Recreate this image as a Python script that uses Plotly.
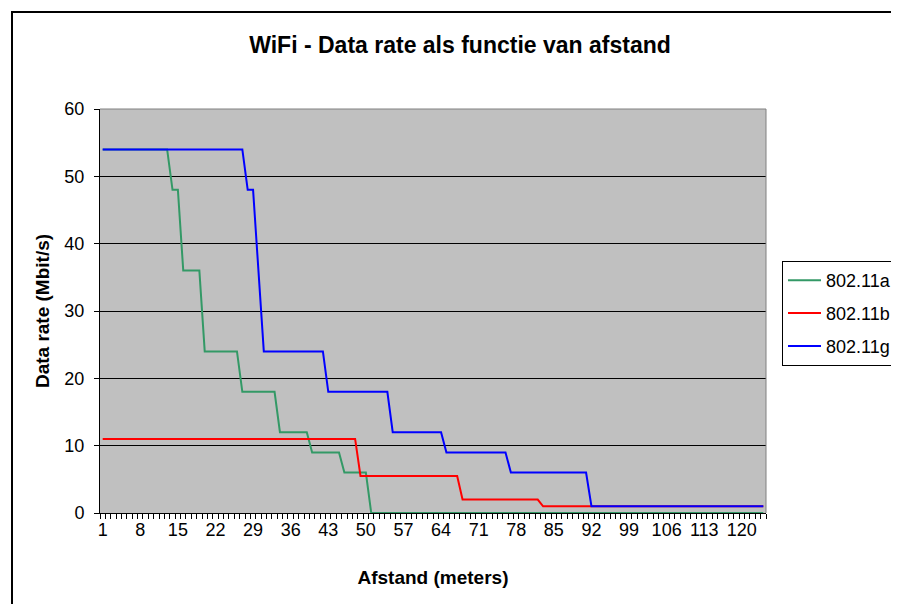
import plotly.graph_objects as go

# Categories: distance in meters
afstand = list(range(1, 125))

# Series values (Mbit/s), one value per distance category
rate_a = [
    54, 54, 54, 54, 54, 54, 54, 54, 54, 54, 54, 54, 54,
    48, 48,
    36, 36, 36, 36,
    24, 24, 24, 24, 24, 24, 24,
    18, 18, 18, 18, 18, 18, 18,
    12, 12, 12, 12, 12, 12,
    9, 9, 9, 9, 9, 9,
    6, 6, 6, 6, 6,
    0, 0, 0, 0, 0, 0, 0, 0, 0, 0, 0, 0, 0, 0, 0, 0, 0, 0, 0, 0, 0, 0, 0, 0, 0,
    0, 0, 0, 0, 0, 0, 0, 0, 0, 0, 0, 0, 0, 0, 0, 0, 0, 0, 0, 0, 0, 0, 0, 0, 0,
    0, 0, 0, 0, 0, 0, 0, 0, 0, 0, 0, 0, 0, 0, 0, 0, 0, 0, 0, 0, 0, 0, 0, 0,
]

rate_b = [
    11, 11, 11, 11, 11, 11, 11, 11, 11, 11, 11, 11, 11, 11, 11, 11,
    11, 11, 11, 11, 11, 11, 11, 11, 11, 11, 11, 11, 11, 11, 11, 11,
    11, 11, 11, 11, 11, 11, 11, 11, 11, 11, 11, 11, 11, 11, 11, 11,
    5.5, 5.5, 5.5, 5.5, 5.5, 5.5, 5.5, 5.5, 5.5, 5.5,
    5.5, 5.5, 5.5, 5.5, 5.5, 5.5, 5.5, 5.5, 5.5,
    2, 2, 2, 2, 2, 2, 2, 2, 2, 2, 2, 2, 2, 2, 2,
    1, 1, 1, 1, 1, 1, 1, 1, 1, 1, 1, 1, 1, 1, 1, 1, 1, 1, 1, 1, 1,
    1, 1, 1, 1, 1, 1, 1, 1, 1, 1, 1, 1, 1, 1, 1, 1, 1, 1, 1, 1, 1,
]

rate_g = [
    54, 54, 54, 54, 54, 54, 54, 54, 54, 54, 54, 54, 54, 54,
    54, 54, 54, 54, 54, 54, 54, 54, 54, 54, 54, 54, 54,
    48, 48,
    36,
    24, 24, 24, 24, 24, 24, 24, 24, 24, 24, 24, 24,
    18, 18, 18, 18, 18, 18, 18, 18, 18, 18, 18, 18,
    12, 12, 12, 12, 12, 12, 12, 12, 12, 12,
    9, 9, 9, 9, 9, 9, 9, 9, 9, 9, 9, 9,
    6, 6, 6, 6, 6, 6, 6, 6, 6, 6, 6, 6, 6, 6, 6,
    1, 1, 1, 1, 1, 1, 1, 1, 1, 1, 1, 1, 1, 1, 1, 1, 1,
    1, 1, 1, 1, 1, 1, 1, 1, 1, 1, 1, 1, 1, 1, 1, 1,
]

series_names = ["802.11a", "802.11b", "802.11g"]
series_colors = ["#339966", "#FF0000", "#0000FF"]
x_tick_labels = [1, 8, 15, 22, 29, 36, 43, 50, 57, 64, 71, 78, 85, 92, 99, 106, 113, 120]
y_tick_values = [0, 10, 20, 30, 40, 50, 60]

FONT = "Liberation Sans, Arial, sans-serif"
# page body has an 8px default margin, so the figure is offset by 8px
W, H = 891, 596
L, R, T, B = 92, 133, 101, 91
pw, ph = W - L - R, H - T - B

fig = go.Figure()
for name, vals, col in zip(series_names, [rate_a, rate_b, rate_g], series_colors):
    fig.add_trace(go.Scatter(
        x=afstand, y=vals, mode="lines", name=name, legendgroup=name,
        line=dict(color=col, width=2), cliponaxis=False,
    ))

def px_x(p):
    return (p - L) / pw

def px_y(p):
    return (H - B - p) / ph

fig.update_layout(
    width=W, height=H,
    margin=dict(l=L, r=R, t=T, b=B, autoexpand=False),
    paper_bgcolor="white",
    plot_bgcolor="#C0C0C0",
    font=dict(family=FONT, size=18, color="black"),
    title=dict(
        text="<b>WiFi - Data rate als functie van afstand</b>",
        x=452 / W, xanchor="center", xref="container",
        y=1 - 37 / H, yanchor="middle", yref="container",
        font=dict(family=FONT, size=23, color="black"),
    ),
    showlegend=True,
    legend=dict(
        x=px_x(774), xanchor="left", y=px_y(253), yanchor="top",
        bordercolor="black", borderwidth=1, bgcolor="white",
        font=dict(family=FONT, size=18, color="black"),
        tracegroupgap=6.5, itemwidth=33,
    ),
    xaxis=dict(
        range=[0.5, len(afstand) + 0.5],
        tickmode="array", tickvals=x_tick_labels, ticktext=[str(v) for v in x_tick_labels],
        ticks="", showgrid=False, zeroline=False,
        showline=True, linecolor="black", linewidth=1,
        tickfont=dict(family=FONT, size=18),
        minor=dict(ticks="outside", tickmode="linear", tick0=0.5, dtick=1,
                   ticklen=5, tickcolor="black", tickwidth=1, showgrid=False),
        title=dict(text="<b>Afstand (meters)</b>", standoff=32,
                   font=dict(family=FONT, size=19)),
        layer="below traces",
        fixedrange=True,
    ),
    yaxis=dict(
        range=[0, 60],
        tickmode="array", tickvals=y_tick_values,
        ticks="outside", ticklen=5, tickcolor="black", tickwidth=1,
        ticklabelstandoff=6,
        showgrid=True, gridcolor="black", gridwidth=1, zeroline=False,
        showline=True, linecolor="black", linewidth=1,
        tickfont=dict(family=FONT, size=18),
        title=dict(text="<b>Data rate (Mbit/s)</b>", standoff=9,
                   font=dict(family=FONT, size=19)),
        layer="below traces",
        fixedrange=True,
    ),
    shapes=[
        # plot area top/right border (gray)
        dict(type="line", xref="paper", yref="paper", x0=0, x1=1, y0=1, y1=1,
             line=dict(color="#808080", width=1), layer="above"),
        dict(type="line", xref="paper", yref="paper", x0=1, x1=1, y0=0, y1=1,
             line=dict(color="#808080", width=1), layer="above"),
        # outer chart border
        dict(type="rect", xref="paper", yref="paper",
             x0=px_x(4), x1=px_x(W + 20), y0=px_y(H + 20), y1=px_y(4),
             line=dict(color="black", width=2), fillcolor="rgba(0,0,0,0)", layer="above"),
    ],
)

fig.write_html("out.html")
